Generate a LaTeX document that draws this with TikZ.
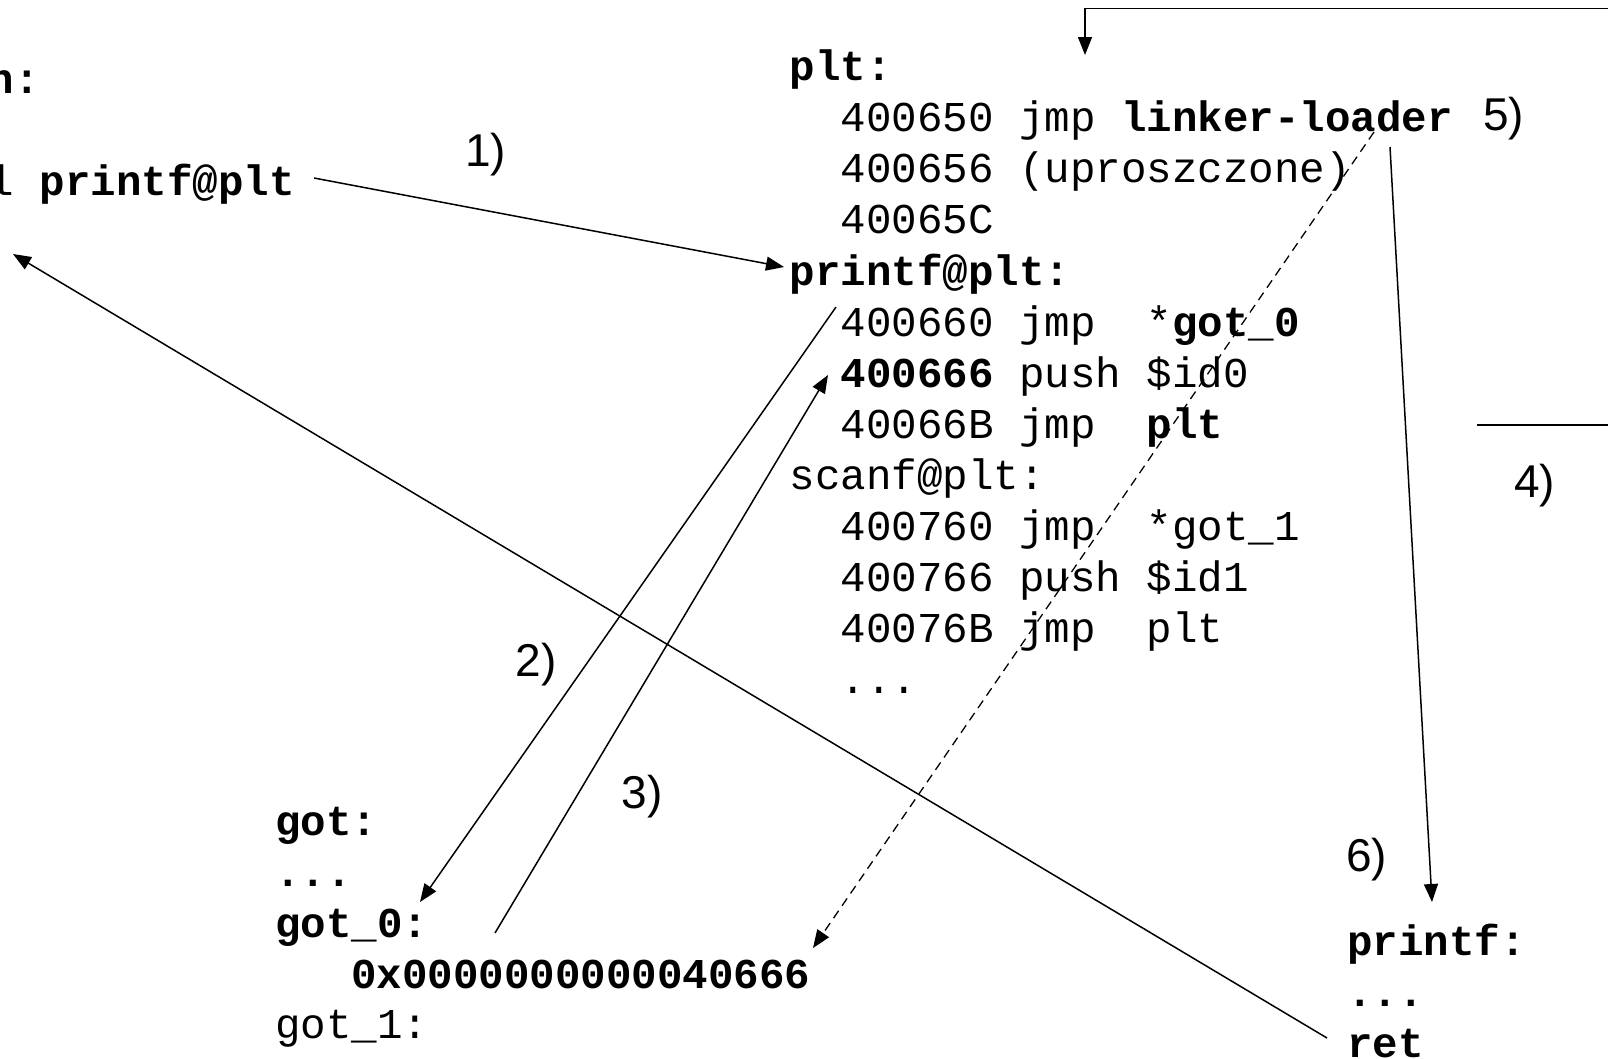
\documentclass[tikz,border=0pt]{standalone}
\usepackage{fontspec}
\newfontfamily\monofont{Liberation Mono}
\newfontfamily\labelfont{Liberation Sans}
\usetikzlibrary{arrows.meta}
\begin{document}
\begin{tikzpicture}[x=1pt,y=-1pt,
  code/.style={font=\monofont\fontsize{42.5}{51}\selectfont, inner sep=0pt, anchor=base west},
  lbl/.style={font=\labelfont\fontsize{46}{55}\selectfont, inner sep=0pt, anchor=base west},
  conn/.style={line width=1.5pt},
  arr/.style={conn, -{Triangle[length=18pt,width=14pt]}},
  dasharr/.style={line width=1.3pt, dash pattern=on 9pt off 6pt, -{Triangle[length=18pt,width=14pt]}}]
\useasboundingbox (0,0) rectangle (1608,1058);
\clip (0,0) rectangle (1608,1058);

% main block (cut off at the left edge, as in the reference)
\node[code] (main) at (-88,93.3) {\bfseries main:};
\node[code] (call) at (-88,195) {call \textbf{printf@plt}};

% plt block
\node[code] (plt)  at (789.5,80.6)  {\bfseries plt:};
\node[code] (p1)   at (840.5,131.7) {400650 jmp \textbf{linker-loader}};
\node[code] (p2)   at (840.5,182.8) {400656 (uproszczone)};
\node[code] (p3)   at (840.5,233.9) {40065C};
\node[code] (pp)   at (789.5,285)   {\bfseries printf@plt:};
\node[code] (p4)   at (840.5,336)   {400660 jmp\ \ *\textbf{got\_0}};
\node[code] (p5)   at (840.5,387)   {\textbf{400666} push \$id0};
\node[code] (p6)   at (840.5,438)   {40066B jmp\ \ \textbf{plt}};
\node[code] (sp)   at (789.5,489)   {scanf@plt:};
\node[code] (p7)   at (840.5,540)   {400760 jmp\ \ *got\_1};
\node[code] (p8)   at (840.5,591)   {400766 push \$id1};
\node[code] (p9)   at (840.5,642)   {40076B jmp\ \ plt};
\node[code] (p10)  at (840.5,693)   {...};

% got block
\node[code] (got)   at (275,835.5) {\bfseries got:};
\node[code] (gdots) at (275,886.3) {\bfseries ...};
\node[code] (got0)  at (275,937)   {\bfseries got\_0:};
\node[code] (gval)  at (351,988)   {\bfseries 0x0000000000040666};
\node[code] (got1)  at (275,1038.7){got\_1:};

% printf block
\node[code] (pf)    at (1347,955.5) {\bfseries printf:};
\node[code] (pfdots) at (1347,1006.5) {\bfseries ...};
\node[code] (ret)   at (1347,1057.5) {\bfseries ret};

% step labels
\node[lbl] (s1) at (465,166.5) {1)};
\node[lbl] (s2) at (515.5,676.5) {2)};
\node[lbl] (s3) at (621.5,808.5) {3)};
\node[lbl] (s4) at (1514,497) {4)};
\node[lbl] (s5) at (1483,130)  {5)};
\node[lbl] (s6) at (1346,871)  {6)};

% connector end points
\coordinate (a1s) at (314,178);
\coordinate (a1e) at (784,267);
\coordinate (a2s) at (836,307);
\coordinate (a2e) at (420,902);
\coordinate (a3s) at (495,933);
\coordinate (a3e) at (828,375);
\coordinate (a6s) at (1327,1038);
\coordinate (a6e) at (13,254);
\coordinate (a5s) at (1374,132);
\coordinate (a5e) at (813,948);
\coordinate (a4s) at (1390,147);
\coordinate (a4e) at (1432,902);
\coordinate (topR) at (1620,8.3);
\coordinate (topC) at (1085,8.3);
\coordinate (topE) at (1085,55);
\coordinate (midL) at (1477,425);
\coordinate (midR) at (1620,425);

\draw[arr] (a1s) -- (a1e);
\draw[arr] (a2s) -- (a2e);
\draw[arr] (a3s) -- (a3e);
\draw[arr] (a6s) -- (a6e);
\draw[dasharr] (a5s) -- (a5e);
\draw[arr] (a4s) -- (a4e);
\draw[arr] (topR) -- (topC) -- (topE);
\draw[conn] (midL) -- (midR);
\end{tikzpicture}
\end{document}
